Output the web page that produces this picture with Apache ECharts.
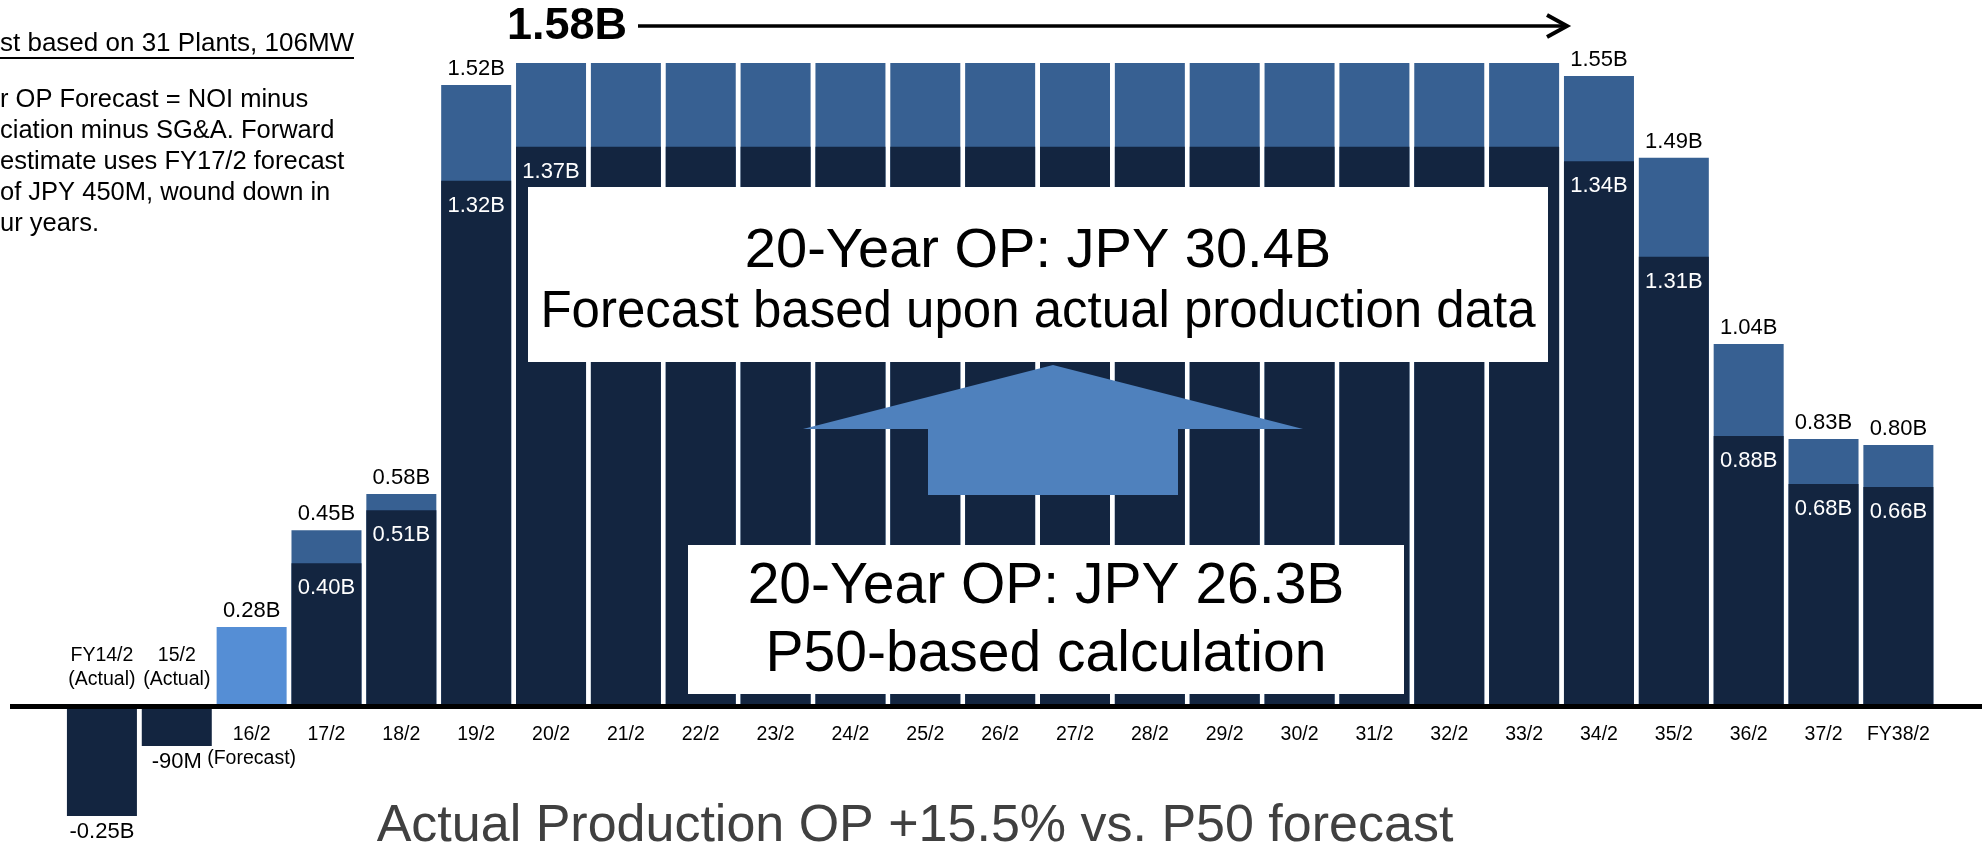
<!DOCTYPE html>
<html>
<head>
<meta charset="utf-8">
<script src="https://cdn.jsdelivr.net/npm/echarts@6/dist/echarts.min.js"></script>
<style>
  html, body { margin: 0; padding: 0; background: #fff; }
  #chart { width: 1982px; height: 851px; }
</style>
</head>
<body>
<div id="chart"></div>
<script>
// ---- data (JPY billions; bar heights as drawn in the picture) ----
const categories = ['FY14/2\n(Actual)', '15/2\n(Actual)', '16/2\n(Forecast)', '17/2', '18/2', '19/2',
  '20/2', '21/2', '22/2', '23/2', '24/2', '25/2', '26/2', '27/2', '28/2', '29/2', '30/2', '31/2',
  '32/2', '33/2', '34/2', '35/2', '36/2', '37/2', 'FY38/2'];

// P50-based OP (dark segment)
const p50OP = [-0.269, -0.097, null, 0.352, 0.482, 1.291,
  1.374, 1.374, 1.374, 1.374, 1.374, 1.374, 1.374, 1.374, 1.374, 1.374, 1.374, 1.374, 1.374, 1.374,
  1.339, 1.104, 0.664, 0.546, 0.539];

// Actual-production-based OP (full bar)
const actualOP = [null, null, 0.195, 0.433, 0.522, 1.526,
  1.580, 1.580, 1.580, 1.580, 1.580, 1.580, 1.580, 1.580, 1.580, 1.580, 1.580, 1.580, 1.580, 1.580,
  1.548, 1.347, 0.890, 0.657, 0.642];

const topLabels = ['', '', '0.28B', '0.45B', '0.58B', '1.52B',
  '', '', '', '', '', '', '', '', '', '', '', '', '', '',
  '1.55B', '1.49B', '1.04B', '0.83B', '0.80B'];

const innerLabels = ['-0.25B', '-90M', '', '0.40B', '0.51B', '1.32B',
  '1.37B', '', '', '', '', '', '', '', '', '', '', '', '', '',
  '1.34B', '1.31B', '0.88B', '0.68B', '0.66B'];

// number of leading (negative) years whose category label sits above the axis
const labelsAboveAxis = 2;

const peakLabel = '1.58B';
const noteTitle = 'st based on 31 Plants, 106MW';
const noteLines = ['r OP Forecast = NOI minus', 'ciation minus SG&A. Forward',
  'estimate uses FY17/2 forecast', 'of JPY 450M, wound down in', 'ur years.'];
const box1Lines = ['20-Year OP: JPY 30.4B', 'Forecast based upon actual production data'];
const box2Lines = ['20-Year OP: JPY 26.3B', 'P50-based calculation'];
const bottomTitle = 'Actual Production OP +15.5% vs. P50 forecast';

// ---- styles ----
const FONT = '"Liberation Sans", Arial, Helvetica, sans-serif';
const NAVY = '#132540';
const MID = '#376092';
const LIGHT = '#558ED5';
const ARROW = '#4F81BD';

const Y0 = 706.5, K = 407.3, YMAX = 1.6, YMIN = -0.3;

const chart = echarts.init(document.getElementById('chart'), null, { renderer: 'canvas' });

const p50Data = p50OP.map((v) => (v !== null && v < 0)
  ? { value: v, label: { position: 'bottom', distance: 5, color: '#000' } }
  : v);

const catData = categories.map((c, i) => ({
  value: 0,
  label: i < labelsAboveAxis ? { position: 'top', distance: 14.5 } : { position: 'bottom', distance: 16.5 }
}));

const option = {
  animation: false,
  backgroundColor: '#fff',
  grid: {
    left: 64.5, width: 1871.3, top: Y0 - YMAX * K, height: (YMAX - YMIN) * K,
    containLabel: false, outerBoundsMode: 'none'
  },
  xAxis: {
    type: 'category',
    data: categories,
    axisLine: { show: false },
    axisTick: { show: false },
    axisLabel: { show: false },
    splitLine: { show: false }
  },
  yAxis: {
    type: 'value', min: YMIN, max: YMAX,
    axisLine: { show: false }, axisTick: { show: false }, axisLabel: { show: false },
    splitLine: { show: false }
  },
  series: [
    {
      name: 'Actual production', type: 'bar', data: actualOP, barWidth: 70, barGap: '-100%', z: 2,
      itemStyle: { color: (p) => p.dataIndex === 2 ? LIGHT : MID },
      label: {
        show: true, position: 'top', distance: 5, fontSize: 22, color: '#000', fontFamily: FONT,
        formatter: (p) => topLabels[p.dataIndex]
      }
    },
    {
      name: 'P50', type: 'bar', data: p50Data, barWidth: 70, barGap: '-100%', z: 3,
      itemStyle: { color: NAVY },
      label: {
        show: true, position: 'insideTop', distance: 14, fontSize: 22, color: '#fff', fontFamily: FONT,
        formatter: (p) => innerLabels[p.dataIndex]
      }
    },
    {
      name: 'categories', type: 'bar', data: catData, barWidth: 70, barGap: '-100%', z: 1,
      itemStyle: { color: 'rgba(0,0,0,0)' },
      label: {
        show: true, fontSize: 19.5, lineHeight: 24, color: '#000',
        fontFamily: FONT, formatter: (p) => categories[p.dataIndex]
      }
    }
  ]
};
chart.setOption(option);

const y0 = chart.convertToPixel({ yAxisIndex: 0 }, 0);

const textStyle = (extra) => Object.assign({ fontFamily: FONT, fill: '#000' }, extra);

chart.setOption({
  graphic: [
    // baseline
    { type: 'rect', z: 100, shape: { x: 10, y: y0 - 2.5, width: 1972, height: 5 }, style: { fill: '#000' } },
    // top-left note
    { type: 'text', z: 100, x: 0, y: 44, style: textStyle({ text: noteTitle, fontSize: 26, verticalAlign: 'middle' }) },
    { type: 'rect', z: 100, shape: { x: 0, y: 57, width: 354, height: 2 }, style: { fill: '#000' } },
    { type: 'text', z: 100, x: 0, y: 84.5, style: textStyle({ text: noteLines.join('\n'), fontSize: 25.5, lineHeight: 31, verticalAlign: 'top' }) },
    // 1.58B peak annotation
    { type: 'text', z: 100, x: 567, y: 27, style: textStyle({ text: peakLabel, fontSize: 45, fontWeight: 'bold', align: 'center', verticalAlign: 'middle' }) },
    { type: 'line', z: 100, shape: { x1: 638, y1: 26, x2: 1565, y2: 26 }, style: { stroke: '#000', lineWidth: 3.5 } },
    { type: 'polyline', z: 100, shape: { points: [[1547, 15], [1567, 26], [1547, 37]] }, style: { stroke: '#000', lineWidth: 4, fill: null } },
    // box 1
    { type: 'rect', z: 100, shape: { x: 528, y: 187, width: 1020, height: 175 }, style: { fill: '#fff' } },
    { type: 'text', z: 101, x: 1038, y: 252, style: textStyle({ text: box1Lines[0], fontSize: 56, align: 'center', verticalAlign: 'middle' }) },
    { type: 'text', z: 101, x: 1038, y: 313, style: textStyle({ text: box1Lines[1], fontSize: 51, align: 'center', verticalAlign: 'middle' }) },
    // up arrow
    { type: 'polygon', z: 100, shape: { points: [[1053, 365], [1303, 429], [1178, 429], [1178, 495], [928, 495], [928, 429], [803, 429]] }, style: { fill: ARROW } },
    // box 2
    { type: 'rect', z: 100, shape: { x: 688, y: 545, width: 716, height: 149 }, style: { fill: '#fff' } },
    { type: 'text', z: 101, x: 1046, y: 587, style: textStyle({ text: box2Lines[0], fontSize: 57, align: 'center', verticalAlign: 'middle' }) },
    { type: 'text', z: 101, x: 1046, y: 655, style: textStyle({ text: box2Lines[1], fontSize: 57, align: 'center', verticalAlign: 'middle' }) },
    // bottom title
    { type: 'text', z: 100, x: 915, y: 827, style: textStyle({ text: bottomTitle, fontSize: 52, fill: '#404040', align: 'center', verticalAlign: 'middle' }) }
  ]
});
</script>
</body>
</html>
